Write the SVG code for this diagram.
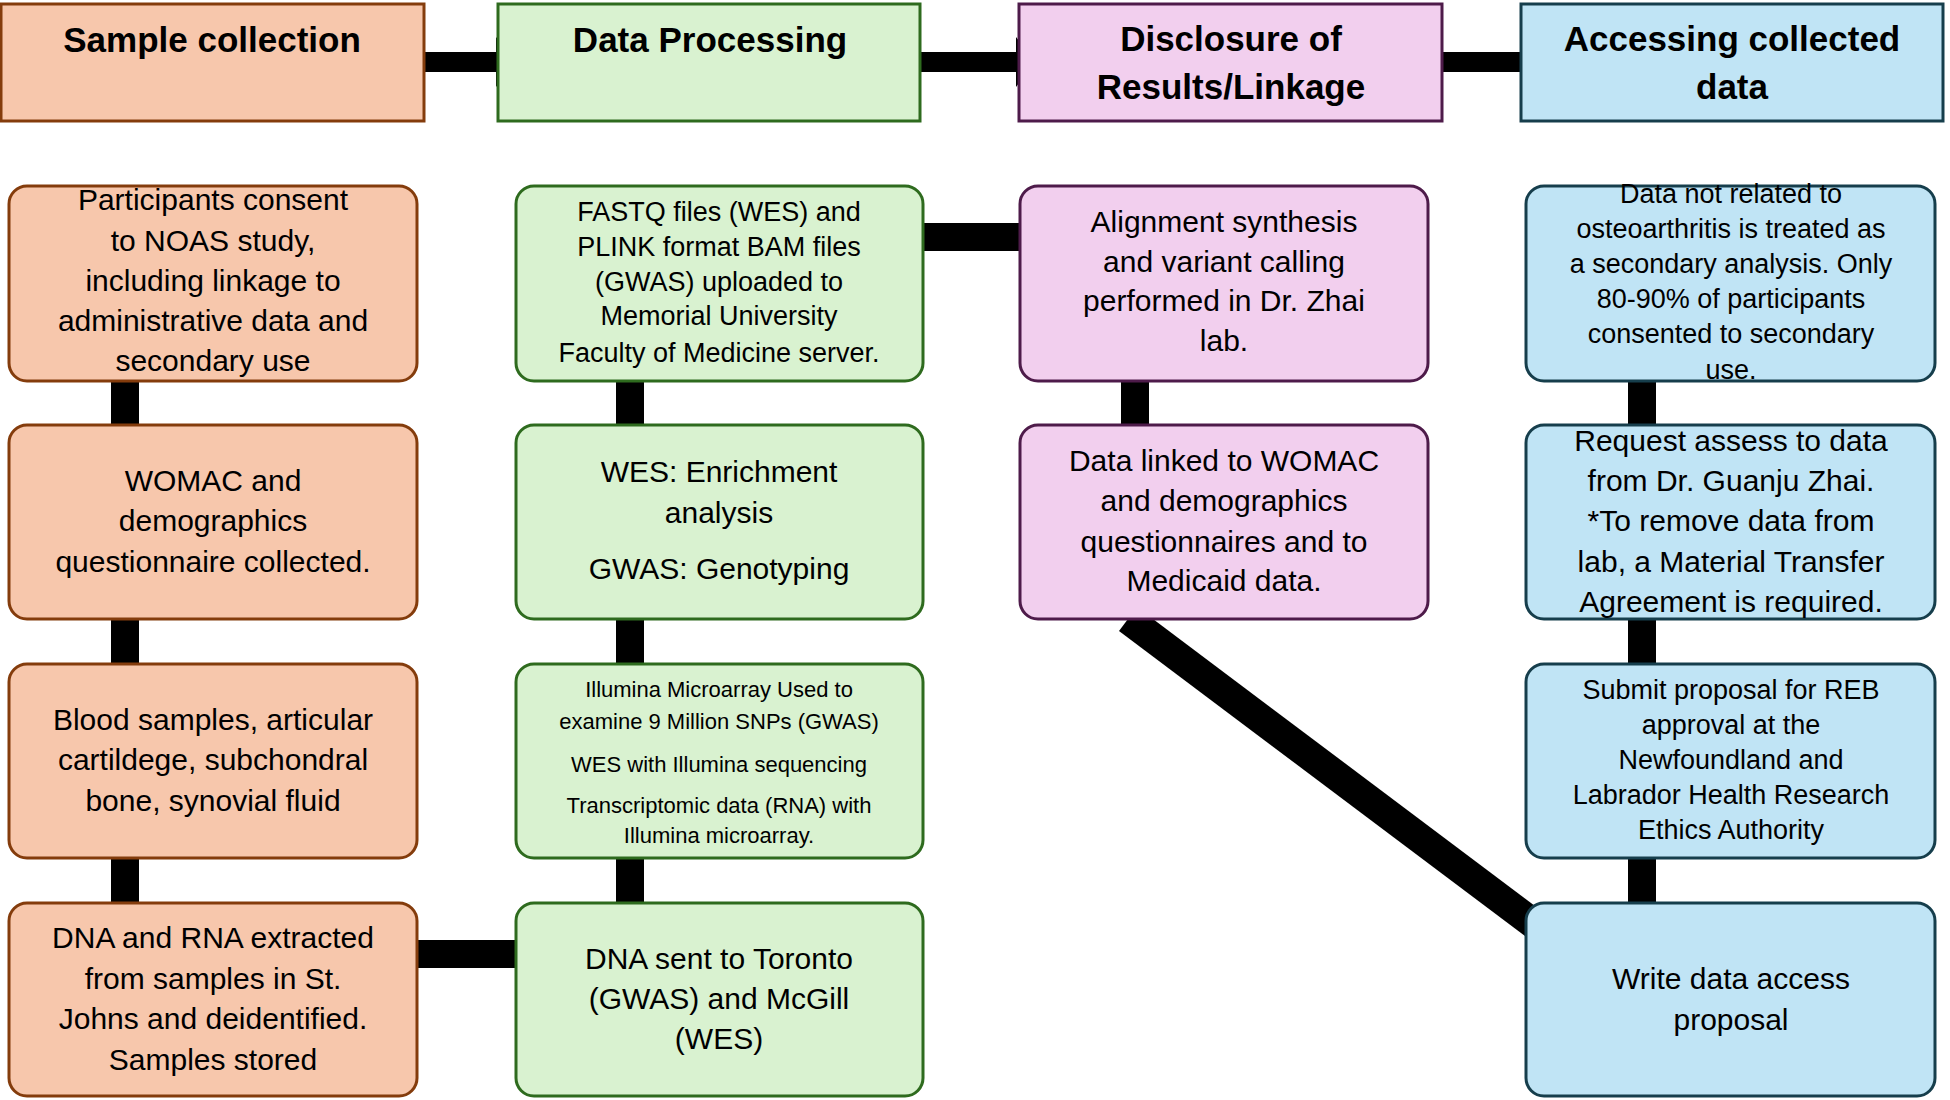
<svg xmlns="http://www.w3.org/2000/svg" width="1950" height="1100" viewBox="0 0 1950 1100">
<style>
text{font-family:"Liberation Sans","Noto Sans",sans-serif;fill:#000;text-anchor:middle}
.h{font-size:35px;font-weight:bold}
.t{font-size:30px}
.s{font-size:27px}
.xs{font-size:22px}
.o{fill:#F7C7AC;stroke:#843C0C;stroke-width:3}
.g{fill:#D9F2D0;stroke:#2E6B1E;stroke-width:3}
.p{fill:#F2CFEE;stroke:#4E1B4A;stroke-width:3}
.b{fill:#C0E4F5;stroke:#163E4C;stroke-width:3}
.c{stroke:#000;fill:none}
</style>
<rect width="1950" height="1100" fill="#fff"/>
<g id="connectors">
<path class="c" stroke-width="20" d="M411 62H500M903 62H1020M1437 62H1524"/>
<path d="M496 37L515 62L496 87Z M1016 37L1035 62L1016 87Z M1520 37L1539 62L1520 87Z" fill="#000"/>
<path class="c" stroke-width="28" d="M125 381V425M125 619V664M125 858V903M630 381V425M630 619V664M630 858V903M1135 381V425M1642 381V425M1642 619V664M1642 858V903M923 237H1020M417 954H516"/>
<path class="c" stroke-width="30" d="M1128 619L1534 924"/>
</g>
<g id="h1"><rect class="o" x="1" y="4" width="423" height="117"/><text class="h" x="212" y="52">Sample collection</text></g>
<g id="h2"><rect class="g" x="498" y="4" width="422" height="117"/><text class="h" x="710" y="52">Data Processing</text></g>
<g id="h3"><rect class="p" x="1019" y="4" width="423" height="117"/><text class="h" x="1231" y="51">Disclosure of</text><text class="h" x="1231" y="99">Results/Linkage</text></g>
<g id="h4"><rect class="b" x="1521" y="4" width="422" height="117"/><text class="h" x="1732" y="51">Accessing collected</text><text class="h" x="1732" y="99">data</text></g>

<g id="a1"><rect class="o" x="9" y="186" width="408" height="195" rx="18"/><text class="t" x="213"><tspan x="213" y="210">Participants consent</tspan><tspan x="213" y="251">to NOAS study,</tspan><tspan x="213" y="291">including linkage to</tspan><tspan x="213" y="331">administrative data and</tspan><tspan x="213" y="371">secondary use</tspan></text></g>
<g id="a2"><rect class="o" x="9" y="425" width="408" height="194" rx="18"/><text class="t"><tspan x="213" y="491">WOMAC and</tspan><tspan x="213" y="531">demographics</tspan><tspan x="213" y="572">questionnaire collected.</tspan></text></g>
<g id="a3"><rect class="o" x="9" y="664" width="408" height="194" rx="18"/><text class="t"><tspan x="213" y="730">Blood samples, articular</tspan><tspan x="213" y="770">cartildege, subchondral</tspan><tspan x="213" y="811">bone, synovial fluid</tspan></text></g>
<g id="a4"><rect class="o" x="9" y="903" width="408" height="193" rx="18"/><text class="t"><tspan x="213" y="948">DNA and RNA extracted</tspan><tspan x="213" y="989">from samples in St.</tspan><tspan x="213" y="1029">Johns and deidentified.</tspan><tspan x="213" y="1070">Samples stored</tspan></text></g>

<g id="b1"><rect class="g" x="516" y="186" width="407" height="195" rx="18"/><text class="s"><tspan x="719" y="221">FASTQ files (WES) and</tspan><tspan x="719" y="256">PLINK format BAM files</tspan><tspan x="719" y="291">(GWAS) uploaded to</tspan><tspan x="719" y="325">Memorial University</tspan><tspan x="719" y="362">Faculty of Medicine server.</tspan></text></g>
<g id="b2"><rect class="g" x="516" y="425" width="407" height="194" rx="18"/><text class="t"><tspan x="719" y="482">WES: Enrichment</tspan><tspan x="719" y="523">analysis</tspan><tspan x="719" y="579">GWAS: Genotyping</tspan></text></g>
<g id="b3"><rect class="g" x="516" y="664" width="407" height="194" rx="18"/><text class="xs"><tspan x="719" y="697">Illumina Microarray Used to</tspan><tspan x="719" y="729">examine 9 Million SNPs (GWAS)</tspan><tspan x="719" y="772">WES with Illumina sequencing</tspan><tspan x="719" y="813">Transcriptomic data (RNA) with</tspan><tspan x="719" y="843">Illumina microarray.</tspan></text></g>
<g id="b4"><rect class="g" x="516" y="903" width="407" height="193" rx="18"/><text class="t"><tspan x="719" y="969">DNA sent to Toronto</tspan><tspan x="719" y="1009">(GWAS) and McGill</tspan><tspan x="719" y="1049">(WES)</tspan></text></g>

<g id="c1"><rect class="p" x="1020" y="186" width="408" height="195" rx="18"/><text class="t"><tspan x="1224" y="232">Alignment synthesis</tspan><tspan x="1224" y="272">and variant calling</tspan><tspan x="1224" y="311">performed in Dr. Zhai</tspan><tspan x="1224" y="351">lab.</tspan></text></g>
<g id="c2"><rect class="p" x="1020" y="425" width="408" height="194" rx="18"/><text class="t"><tspan x="1224" y="471">Data linked to WOMAC</tspan><tspan x="1224" y="511">and demographics</tspan><tspan x="1224" y="552">questionnaires and to</tspan><tspan x="1224" y="591">Medicaid data.</tspan></text></g>

<g id="d1"><rect class="b" x="1526" y="186" width="409" height="195" rx="18"/><text class="s"><tspan x="1731" y="203">Data not related to</tspan><tspan x="1731" y="238">osteoarthritis is treated as</tspan><tspan x="1731" y="273">a secondary analysis. Only</tspan><tspan x="1731" y="308">80-90% of participants</tspan><tspan x="1731" y="343">consented to secondary</tspan><tspan x="1731" y="379">use.</tspan></text></g>
<g id="d2"><rect class="b" x="1526" y="425" width="409" height="194" rx="18"/><text class="t"><tspan x="1731" y="451">Request assess to data</tspan><tspan x="1731" y="491">from Dr. Guanju Zhai.</tspan><tspan x="1731" y="531">*To remove data from</tspan><tspan x="1731" y="572">lab, a Material Transfer</tspan><tspan x="1731" y="612">Agreement is required.</tspan></text></g>
<g id="d3"><rect class="b" x="1526" y="664" width="409" height="194" rx="18"/><text class="s"><tspan x="1731" y="699">Submit proposal for REB</tspan><tspan x="1731" y="734">approval at the</tspan><tspan x="1731" y="769">Newfoundland and</tspan><tspan x="1731" y="804">Labrador Health Research</tspan><tspan x="1731" y="839">Ethics Authority</tspan></text></g>
<g id="d4"><rect class="b" x="1526" y="903" width="409" height="193" rx="18"/><text class="t"><tspan x="1731" y="989">Write data access</tspan><tspan x="1731" y="1030">proposal</tspan></text></g>
</svg>
